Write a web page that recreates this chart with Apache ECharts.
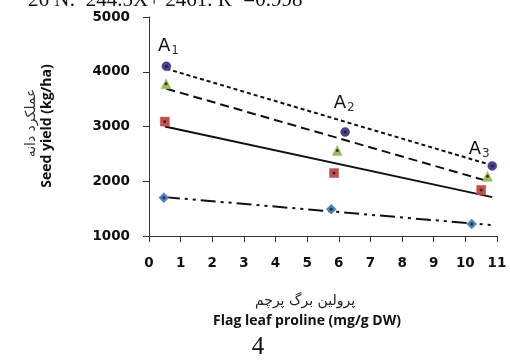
<!DOCTYPE html>
<html>
<head>
<meta charset="utf-8">
<script src="https://cdn.jsdelivr.net/npm/echarts@6/dist/echarts.min.js"></script>
<style>html,body{margin:0;padding:0;background:#fff}#chart{width:510px;height:360px}</style>
</head>
<body>
<div id="chart"></div>
<script>
// point groups (x = flag leaf proline, y = seed yield)
const groupLabels = ['1', '2', '3'];
const circlePts = [[0.55, 4100], [6.2, 2900], [10.85, 2280]];
const trianglePts = [[0.54, 3780], [5.95, 2560], [10.7, 2090]];
const squarePts = [[0.5, 3090], [5.85, 2150], [10.5, 1840]];
const diamondPts = [[0.47, 1700], [5.76, 1490], [10.2, 1220]];

// fitted lines, start and end
const circleTrend = [[0.55, 4055], [10.85, 2290]];
const triangleTrend = [[0.55, 3690], [10.6, 2020]];
const squareTrend = [[0.5, 3000], [10.85, 1710]];
const diamondTrend = [[0.5, 1710], [10.8, 1200]];

const titleText = '26 N:  244.5X+ 2461. R\u00b2 =0.998';

const chart = echarts.init(document.getElementById('chart'));

const tickFont = { fontFamily: 'DejaVu Sans', fontWeight: 'bold', fontSize: 13.5, color: '#111' };

function trend(data, type) {
  return {
    type: 'line', data, symbol: 'none', z: 2, silent: true,
    lineStyle: { color: '#111', width: 2, type }
  };
}

function points(data, symbol, color, size) {
  return {
    type: 'scatter', data, symbol, symbolSize: size, z: 3,
    itemStyle: { color, borderColor: color, borderWidth: 0.5, opacity: 1 }
  };
}

function centers(data) {
  return {
    type: 'scatter', data, symbol: 'circle', symbolSize: 3, z: 4, silent: true,
    itemStyle: { color: '#1a1a1a' }
  };
}

// label offsets for A1..A3 over the circle points
const labelOffsets = [[2, -20], [-1, -29], [-13, -17]];
const circleItems = circlePts.map((p, i) => ({
  value: p,
  label: {
    show: true, position: 'inside', offset: labelOffsets[i],
    formatter: '{a|A}{s|' + groupLabels[i] + '}',
    rich: {
      a: { fontFamily: 'DejaVu Sans', fontSize: 18, color: '#111' },
      s: { fontFamily: 'DejaVu Sans', fontSize: 12, color: '#333', padding: [10, 0, 0, 1] }
    }
  }
}));

chart.setOption({
  animation: false,
  backgroundColor: '#fff',
  grid: { left: 149, right: 13, top: 17, bottom: 124, containLabel: false },
  xAxis: {
    type: 'value', min: 0, max: 11, interval: 1,
    axisLine: { show: true, onZero: false, lineStyle: { color: '#333', width: 1 } },
    axisTick: { show: true, length: 6, inside: false, lineStyle: { color: '#333' } },
    axisLabel: { ...tickFont, margin: 20 },
    splitLine: { show: false }
  },
  yAxis: {
    type: 'value', min: 1000, max: 5000, interval: 1000,
    axisLine: { show: true, lineStyle: { color: '#333', width: 1 } },
    axisTick: { show: true, length: 6, lineStyle: { color: '#333' } },
    axisLabel: { ...tickFont, margin: 19, formatter: v => String(v) },
    splitLine: { show: false }
  },
  series: [
    trend(circleTrend, [4, 3]),
    trend(triangleTrend, [9, 5]),
    trend(squareTrend, 'solid'),
    trend(diamondTrend, [15, 5, 3, 5, 3, 5]),
    points(circleItems, 'circle', '#4d3f8f', 9),
    points(trianglePts, 'triangle', '#9bbb59', 10),
    points(squarePts, 'rect', '#c0504d', 9),
    points(diamondPts, 'diamond', '#4f81bd', 10),
    centers(circlePts), centers(trianglePts), centers(squarePts), centers(diamondPts)
  ],
  graphic: [
    { type: 'text', left: 28, top: -10, style: { text: titleText, font: '21px "Liberation Serif"', fill: '#111' } },
    { type: 'text', x: 47, y: 126, rotation: Math.PI / 2, style: { text: 'Seed yield (kg/ha)', font: 'bold 14px "Open Sans"', fill: '#111', align: 'center', verticalAlign: 'middle' } },
    { type: 'text', x: 31, y: 123, rotation: Math.PI / 2, style: { text: 'عملکرد دانه', font: '14px "DejaVu Sans"', fill: '#333', align: 'center', verticalAlign: 'middle' } },
    { type: 'text', x: 305, y: 301, style: { text: 'پرولین برگ پرچم', font: '14px "DejaVu Sans"', fill: '#222', align: 'center', verticalAlign: 'middle' } },
    { type: 'text', x: 307, y: 321, style: { text: 'Flag leaf proline (mg/g DW)', font: 'bold 14px "Open Sans"', fill: '#111', align: 'center', verticalAlign: 'middle' } },
    { type: 'text', x: 258, y: 347, style: { text: '4', font: '25px "Liberation Serif"', fill: '#111', align: 'center', verticalAlign: 'middle' } }
  ]
});
</script>
</body>
</html>
